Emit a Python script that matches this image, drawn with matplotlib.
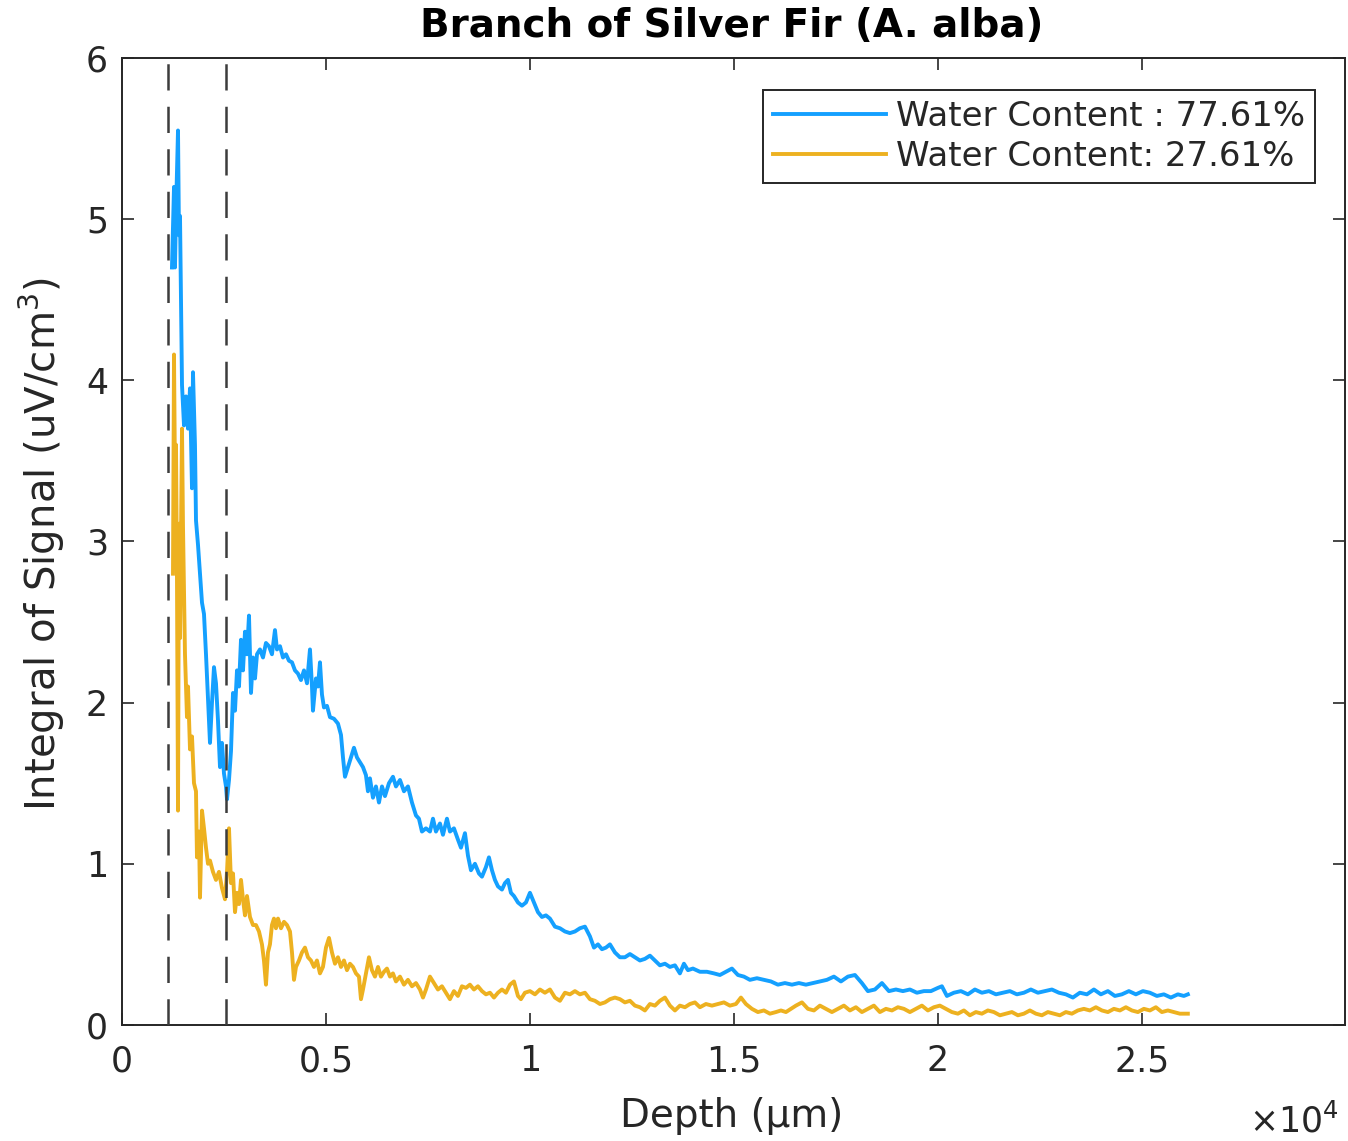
import matplotlib
matplotlib.use("Agg")
import matplotlib.pyplot as plt

# depth in micrometres, signal in uV/cm^3
depth_wet = [1225, 1275, 1299, 1324, 1373, 1397, 1422, 1446, 1471, 1520, 1569, 1618, 1667, 1716, 1740,
             1789, 1814, 1863, 1912, 1961, 2010, 2059, 2108, 2157, 2206, 2255, 2304, 2353, 2402, 2451,
             2500, 2549, 2574, 2623, 2672, 2721, 2770, 2819, 2868, 2917, 2966, 3015, 3064, 3113, 3162,
             3211, 3260, 3309, 3382, 3456, 3529, 3603, 3676, 3750, 3799, 3873, 3946, 4020, 4093, 4167,
             4240, 4314, 4387, 4461, 4535, 4608, 4657, 4681, 4755, 4804, 4853, 4902, 4951, 5025, 5098,
             5196, 5294, 5368, 5417, 5466, 5539, 5613, 5686, 5760, 5833, 5907, 5980, 6029, 6078, 6152,
             6225, 6299, 6373, 6446, 6544, 6642, 6716, 6814, 6912, 7010, 7108, 7206, 7279, 7353, 7451,
             7549, 7623, 7696, 7794, 7868, 7966, 8039, 8137, 8235, 8309, 8407, 8481, 8554, 8652, 8750,
             8824, 8922, 8995, 9069, 9142, 9216, 9314, 9387, 9461, 9534, 9608, 9706, 9804, 9902, 10000,
             10098, 10196, 10294, 10392, 10490, 10613, 10735, 10858, 10980, 11103, 11225, 11348, 11470,
             11569, 11667, 11765, 11863, 11961, 12083, 12206, 12328, 12451, 12573, 12696, 12818, 12941,
             13064, 13186, 13309, 13431, 13554, 13676, 13775, 13873, 13995, 14167, 14338, 14510, 14657,
             14804, 14951, 15098, 15245, 15392, 15564, 15735, 15907, 16078, 16250, 16422, 16593, 16765,
             16936, 17108, 17280, 17451, 17623, 17794, 17966, 18137, 18284, 18456, 18628, 18799, 18971,
             19142, 19314, 19485, 19657, 19829, 20000, 20098, 20221, 20392, 20564, 20735, 20907, 21078,
             21250, 21422, 21593, 21765, 21936, 22108, 22279, 22451, 22623, 22794, 22966, 23137, 23309,
             23480, 23652, 23824, 23995, 24167, 24338, 24510, 24681, 24853, 25025, 25196, 25368, 25539,
             25711, 25882, 26029, 26127]
signal_wet = [4.70, 5.20, 4.70, 5.05, 5.55, 4.90, 5.02, 4.50, 3.97, 3.72, 3.90, 3.70, 3.95, 3.33, 4.05,
              3.60, 3.13, 2.98, 2.80, 2.62, 2.55, 2.30, 2.02, 1.75, 2.00, 2.22, 2.12, 1.89, 1.60, 1.75,
              1.56, 1.48, 1.40, 1.52, 1.70, 2.06, 1.95, 2.20, 2.10, 2.39, 2.20, 2.44, 2.30, 2.54, 2.06,
              2.28, 2.15, 2.30, 2.33, 2.28, 2.37, 2.35, 2.30, 2.45, 2.33, 2.35, 2.28, 2.30, 2.26, 2.25,
              2.20, 2.18, 2.14, 2.20, 2.12, 2.33, 2.10, 1.95, 2.15, 2.10, 2.25, 2.05, 1.97, 1.98, 1.91,
              1.90, 1.87, 1.80, 1.66, 1.54, 1.60, 1.66, 1.72, 1.66, 1.63, 1.60, 1.55, 1.45, 1.53, 1.41,
              1.48, 1.38, 1.48, 1.42, 1.50, 1.54, 1.48, 1.52, 1.45, 1.48, 1.38, 1.30, 1.28, 1.20, 1.22,
              1.20, 1.28, 1.20, 1.25, 1.18, 1.28, 1.20, 1.22, 1.15, 1.10, 1.19, 1.05, 0.96, 1.00, 0.94,
              0.92, 0.98, 1.04, 0.96, 0.90, 0.86, 0.84, 0.88, 0.90, 0.82, 0.80, 0.76, 0.74, 0.76, 0.82,
              0.76, 0.70, 0.67, 0.68, 0.66, 0.61, 0.60, 0.58, 0.57, 0.58, 0.60, 0.61, 0.55,
              0.48, 0.50, 0.47, 0.48, 0.50, 0.45, 0.42, 0.42, 0.44, 0.42, 0.40, 0.41, 0.43,
              0.40, 0.37, 0.38, 0.36, 0.37, 0.32, 0.38, 0.34, 0.35, 0.33, 0.33, 0.32, 0.31,
              0.33, 0.35, 0.31, 0.30, 0.28, 0.29, 0.28, 0.27, 0.25, 0.26, 0.25, 0.26, 0.25,
              0.26, 0.27, 0.28, 0.30, 0.27, 0.30, 0.31, 0.26, 0.21, 0.22, 0.26, 0.21, 0.22,
              0.21, 0.22, 0.20, 0.21, 0.21, 0.23, 0.24, 0.18, 0.20, 0.21, 0.19, 0.22, 0.20,
              0.21, 0.19, 0.20, 0.21, 0.19, 0.20, 0.22, 0.20, 0.21, 0.22, 0.20, 0.19, 0.17,
              0.20, 0.19, 0.22, 0.19, 0.21, 0.18, 0.19, 0.21, 0.19, 0.21, 0.20, 0.18, 0.19,
              0.17, 0.19, 0.18, 0.19]

depth_dry = [1250, 1275, 1299, 1324, 1348, 1373, 1397, 1422, 1471, 1495, 1544, 1593, 1618, 1667, 1716,
             1765, 1814, 1838, 1887, 1912, 1961, 2010, 2059, 2108, 2157, 2230, 2304, 2377, 2451, 2525,
             2574, 2623, 2672, 2721, 2770, 2819, 2868, 2917, 2966, 3015, 3064, 3137, 3211, 3284, 3358,
             3431, 3480, 3529, 3578, 3627, 3676, 3725, 3774, 3824, 3897, 3971, 4044, 4118, 4167, 4216,
             4265, 4338, 4412, 4485, 4559, 4632, 4706, 4779, 4853, 4926, 5000, 5074, 5147, 5221, 5294,
             5368, 5441, 5515, 5588, 5662, 5735, 5809, 5858, 5907, 5980, 6054, 6127, 6201, 6275, 6348,
             6422, 6495, 6569, 6642, 6716, 6814, 6912, 7010, 7108, 7206, 7304, 7378, 7451, 7549, 7647,
             7745, 7843, 7941, 8039, 8137, 8235, 8333, 8431, 8529, 8627, 8725, 8824, 8922, 9020, 9118,
             9216, 9314, 9412, 9510, 9608, 9706, 9779, 9877, 10000, 10123, 10245, 10368, 10490, 10613,
             10735, 10858, 10980, 11103, 11225, 11348, 11470, 11593, 11716, 11838, 11961, 12083, 12206,
             12328, 12451, 12573, 12696, 12818, 12941, 13064, 13186, 13309, 13431, 13554, 13676, 13799,
             13922, 14044, 14167, 14314, 14461, 14608, 14755, 14902, 15049, 15172, 15294, 15441, 15588,
             15735, 15882, 16029, 16152, 16275, 16397, 16520, 16667, 16814, 16961, 17108, 17255, 17402,
             17549, 17696, 17843, 17990, 18137, 18284, 18431, 18578, 18726, 18873, 19020, 19167, 19314,
             19461, 19608, 19755, 19902, 20049, 20196, 20343, 20490, 20637, 20784, 20931, 21078, 21225,
             21373, 21520, 21667, 21814, 21961, 22108, 22255, 22402, 22549, 22696, 22843, 22990, 23137,
             23284, 23431, 23578, 23725, 23873, 24020, 24167, 24314, 24461, 24608, 24755, 24902, 25049,
             25196, 25343, 25490, 25637, 25784, 25931, 26127]
signal_dry = [2.80, 4.16, 3.40, 3.60, 2.76, 1.33, 3.11, 2.40, 3.70, 3.10, 2.30, 1.91, 2.10, 1.71, 1.79,
              1.50, 1.45, 1.04, 1.20, 0.79, 1.33, 1.22, 1.10, 1.00, 1.02, 0.95, 0.90, 0.95, 0.85, 0.78,
              0.95, 1.22, 0.88, 0.94, 0.70, 0.82, 0.75, 0.90, 0.78, 0.68, 0.80, 0.67, 0.62, 0.62, 0.58,
              0.50, 0.40, 0.25, 0.45, 0.50, 0.62, 0.66, 0.60, 0.66, 0.60, 0.64, 0.62, 0.58, 0.45, 0.28,
              0.36, 0.40, 0.45, 0.48, 0.42, 0.40, 0.36, 0.40, 0.32, 0.36, 0.48, 0.54, 0.45, 0.38, 0.42,
              0.36, 0.40, 0.34, 0.38, 0.36, 0.32, 0.30, 0.16, 0.22, 0.32, 0.42, 0.34, 0.30, 0.36, 0.30,
              0.33, 0.35, 0.30, 0.32, 0.27, 0.30, 0.25, 0.28, 0.24, 0.26, 0.22, 0.17, 0.22, 0.30, 0.26,
              0.22, 0.24, 0.20, 0.16, 0.21, 0.18, 0.24, 0.23, 0.25, 0.22, 0.24, 0.21, 0.19, 0.20, 0.17,
              0.20, 0.22, 0.20, 0.25, 0.27, 0.18, 0.16, 0.20, 0.21, 0.19, 0.22, 0.20, 0.22, 0.17,
              0.15, 0.20, 0.19, 0.21, 0.19, 0.20, 0.16, 0.15, 0.13, 0.14, 0.16, 0.17, 0.16,
              0.14, 0.15, 0.12, 0.11, 0.09, 0.13, 0.12, 0.15, 0.17, 0.12, 0.09, 0.12, 0.11,
              0.13, 0.14, 0.11, 0.13, 0.12, 0.13, 0.14, 0.12, 0.13, 0.17, 0.13, 0.10, 0.08,
              0.09, 0.07, 0.08, 0.09, 0.08, 0.10, 0.12, 0.14, 0.10, 0.09, 0.12, 0.10, 0.08,
              0.10, 0.12, 0.09, 0.11, 0.08, 0.10, 0.12, 0.08, 0.10, 0.09, 0.11, 0.10, 0.08,
              0.10, 0.12, 0.09, 0.11, 0.12, 0.10, 0.08, 0.07, 0.09, 0.06, 0.08, 0.07, 0.09,
              0.08, 0.06, 0.07, 0.08, 0.06, 0.07, 0.09, 0.07, 0.06, 0.08, 0.07, 0.06, 0.08,
              0.07, 0.09, 0.10, 0.09, 0.11, 0.09, 0.08, 0.10, 0.09, 0.11, 0.09, 0.08, 0.10,
              0.09, 0.11, 0.08, 0.09, 0.08, 0.07, 0.07]

# region boundaries (dashed lines)
boundaries = [1127, 2549]

labels = ["Water Content : 77.61%", "Water Content: 27.61%"]
x_ticks = [0, 5000, 10000, 15000, 20000, 25000]
x_ticklabels = ["0", "0.5", "1", "1.5", "2", "2.5"]
y_ticks = [0, 1, 2, 3, 4, 5, 6]

plt.rcParams["font.family"] = "DejaVu Sans"
dark = "#262626"

fig = plt.figure(figsize=(13.48, 11.41), dpi=100)
ax = fig.add_axes([0.0905, 0.1017, 0.9073, 0.8475])

ax.plot(depth_wet, signal_wet, color="#14a0ff", lw=2.8, label=labels[0], zorder=3)
ax.plot(depth_dry, signal_dry, color="#edb120", lw=2.8, label=labels[1], zorder=2)
for b in boundaries:
    ax.axvline(b, color="#3c3c3c", lw=1.8, dashes=(10.5, 6.5), zorder=4)

ax.set_xlim(0, 29980)
ax.set_ylim(0, 6)
ax.set_xticks(x_ticks)
ax.set_xticklabels(x_ticklabels)
ax.set_yticks(y_ticks)

ax.tick_params(direction="in", length=8.5, width=1.2, colors=dark, labelsize=25,
               top=True, right=True)
ax.tick_params(axis="x", pad=14)
ax.tick_params(axis="y", pad=10)
for s in ax.spines.values():
    s.set_linewidth(1.4)
    s.set_color(dark)

fig.text(0.5425, 0.0215, "Depth (µm)", ha="center", va="center", fontsize=28, color=dark)
fig.text(0.031, 0.523, "Integral of Signal (uV/cm$^3$)", ha="center", va="center",
         rotation=90, fontsize=29, color=dark)
fig.text(0.543, 0.977, "Branch of Silver Fir (A. alba)", ha="center", va="center",
         fontsize=28, fontweight="bold", color="black")
fig.text(0.96, 0.017, r"$\times10^4$", ha="center", va="center", fontsize=25, color=dark)

leg = ax.legend(loc="upper right", bbox_to_anchor=(0.9755, 0.967), borderaxespad=0,
                fontsize=24.5, handlelength=3.3, handletextpad=0.3, labelspacing=0.2,
                borderpad=0.3, fancybox=False, framealpha=1)
leg.get_frame().set_edgecolor(dark)
leg.get_frame().set_linewidth(1.4)
for t in leg.get_texts():
    t.set_color(dark)

fig.savefig("out.png", dpi=100)
